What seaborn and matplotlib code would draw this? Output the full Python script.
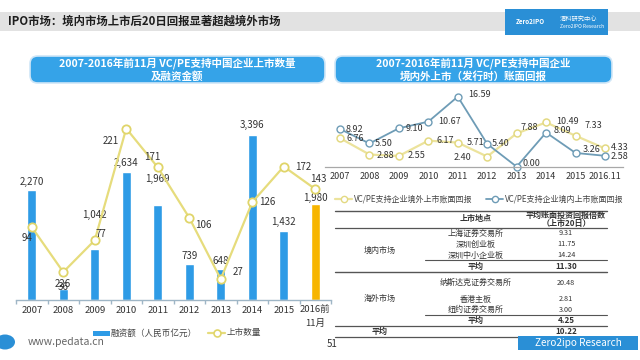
import numpy as np
import pandas as pd
import seaborn as sns
import matplotlib.pyplot as plt
from matplotlib.patches import Rectangle, FancyBboxPatch, Ellipse
from matplotlib.lines import Line2D

sns.set_theme(style='white')
plt.rcParams['font.family'] = ['Noto Sans CJK SC', 'DejaVu Sans']

W, H = 640, 360

# left chart: listings and capital raised
years_left = ['2007', '2008', '2009', '2010', '2011', '2012', '2013', '2014', '2015', '2016前\n11月']
amounts = [2270, 226, 1042, 2634, 1969, 739, 648, 3396, 1432, 1980]
counts = [94, 36, 77, 221, 171, 106, 27, 126, 172, 143]

# right chart: book return multiples
years_right = ['2007', '2008', '2009', '2010', '2011', '2012', '2013', '2014', '2015', '2016.11']
ret_overseas = [6.76, 2.88, 2.55, 6.17, 5.71, 2.40, 7.88, 10.49, 7.33, 4.33]
ret_domestic = [8.92, 5.50, 9.10, 10.67, 16.59, 5.40, 0.00, 8.09, 3.26, 2.58]

# table: 20-day return multiples
domestic_venues = ['上海证券交易所', '深圳创业板', '深圳中小企业板']
domestic_multiples = [9.31, 11.75, 14.24]
domestic_avg = 11.30
overseas_venues = ['纳斯达克证券交易所', '香港主板', '纽约证券交易所']
overseas_multiples = [20.48, 2.81, 3.00]
overseas_avg = 4.25
total_avg = 10.22

BLUE = '#2e9be6'
ORANGE = '#f7b500'
YELLOW = '#e6dc7c'
STEEL = '#6e9cb6'
TXT = '#333333'

fig = plt.figure(figsize=(6.4, 3.6), dpi=100)
fig.patch.set_facecolor('white')


def fx(x):
    return x / W


def fy(y):
    return 1 - y / H


def ftext(x, y, s, **kw):
    kw.setdefault('color', TXT)
    kw.setdefault('va', 'center')
    fig.text(fx(x), fy(y), s, **kw)


def fline(x0, x1, y, lw=0.7, color='#555555'):
    fig.add_artist(Line2D([fx(x0), fx(x1)], [fy(y), fy(y)], lw=lw, color=color))


def frect(x0, y0, x1, y1, **kw):
    fig.add_artist(Rectangle((fx(x0), fy(y1)), fx(x1) - fx(x0), fy(y0) - fy(y1),
                             transform=fig.transFigure, **kw))


def title_box(x0, y0, x1, y1, text):
    box = FancyBboxPatch((fx(x0), fy(y1)), fx(x1) - fx(x0), fy(y0) - fy(y1),
                         boxstyle='round,pad=0,rounding_size=0.012', mutation_aspect=W / H,
                         transform=fig.transFigure, facecolor='#35a3e8',
                         edgecolor='#cfe6f7', lw=1.2)
    fig.add_artist(box)
    ftext((x0 + x1) / 2, (y0 + y1) / 2, text, color='white', fontsize=7.6,
          fontweight='bold', ha='center', linespacing=1.25)


# header band
frect(0, 12, 640, 31, facecolor='#e2e2e2', edgecolor='none')
ftext(8, 21.5, 'IPO市场：境内市场上市后20日回报显著超越境外市场', fontsize=8.2,
      fontweight='bold', color='#1e1e1e', ha='left')
frect(505, 9, 608, 35, facecolor='#2a8fd6', edgecolor='none')
ftext(530, 22, 'Zero2IPO', fontsize=4.5, color='white', ha='center', style='italic',
      fontweight='bold')
ftext(560, 19, '清科研究中心', fontsize=4.5, color='white', ha='left')
ftext(560, 26, 'Zero2IPO Research', fontsize=3.6, color='white', ha='left')

title_box(30, 56, 325, 83, '2007-2016年前11月 VC/PE支持中国企业上市数量\n及融资金额')
title_box(335, 56, 612, 83, '2007-2016年前11月 VC/PE支持中国企业\n境内外上市（发行时）账面回报')

# ---- left chart ----
ax1 = fig.add_axes([fx(16), fy(300), (331 - 16) / W, 194 / H])
df_left = pd.DataFrame({'year': years_left, 'amount': amounts})
bar_colors = [BLUE] * (len(years_left) - 1) + [ORANGE]
sns.barplot(data=df_left, x='year', y='amount', hue='year', palette=bar_colors,
            legend=False, width=0.28, saturation=1, ax=ax1)
ax1.set_ylim(0, 4000)
ax1.set_xlabel('')
ax1.set_ylabel('')
ax1.set_yticks([])
for s in ['top', 'left', 'right']:
    ax1.spines[s].set_visible(False)
ax1.spines['bottom'].set_color('#9fb6c6')
ax1.spines['bottom'].set_linewidth(1.0)
ax1.set_xticks(range(len(years_left)))
ax1.set_xticklabels(years_left, fontsize=6.8, color=TXT, linespacing=1.6)
ax1.set_xticks(np.arange(-0.5, len(years_left), 1), minor=True)
ax1.tick_params(axis='x', which='major', length=0, pad=4)
ax1.tick_params(axis='x', which='minor', length=3, color='#9fb6c6', bottom=True,
                direction='out')
ax1.patch.set_alpha(0)
bar_label_lift = [8, 5, 34, 9, 26, 8, 8, 10, 9, 6]
for i, (v, lift) in enumerate(zip(amounts, bar_label_lift)):
    ax1.annotate(f'{v:,}', (i, v), xytext=(0, lift), textcoords='offset pixels',
                 ha='center', va='center', fontsize=7, color=TXT)

ax2 = ax1.twinx()
sns.lineplot(x=np.arange(len(counts)), y=counts, ax=ax2, color=YELLOW, lw=1.6,
             marker='o', markersize=6, markerfacecolor='white',
             markeredgecolor='#e0d56a', markeredgewidth=1.3)
ax2.set_ylim(0, 250)
ax2.set_xlim(-0.5, len(years_left) - 0.5)
ax2.set_yticks([])
ax2.set_ylabel('')
for s in ax2.spines.values():
    s.set_visible(False)
count_offsets = [(-5, -11), (0, -15), (6, 6), (-15, -12), (-5, 10),
                 (14, -7), (17, 7), (15, 0), (19, 0), (3, 10)]
for i, (v, off) in enumerate(zip(counts, count_offsets)):
    ax2.annotate(str(v), (i, v), xytext=off, textcoords='offset pixels',
                 ha='center', va='center', fontsize=7, color=TXT)

# left legend
frect(93, 330.5, 110, 335.5, facecolor=BLUE, edgecolor='none')
ftext(111, 333, '融资额（人民币亿元）', fontsize=6.2, color='#444444', ha='left')
fig.add_artist(Line2D([fx(208), fx(225)], [fy(333), fy(333)], color=YELLOW, lw=1.6))
fig.add_artist(Line2D([fx(216.5)], [fy(333)], marker='o', markersize=5,
                      markerfacecolor='white', markeredgecolor='#e0d56a',
                      markeredgewidth=1.2, lw=0))
ftext(227, 333, '上市数量', fontsize=6.2, color='#444444', ha='left')

# ---- right chart ----
ax3 = fig.add_axes([fx(325.3), fy(166.7), (622.6 - 325.3) / W, 76 / H])
xr = np.arange(len(years_right))
sns.lineplot(x=xr, y=ret_overseas, ax=ax3, color='#ece39c', lw=1.6, marker='o',
             markersize=5, markerfacecolor='white', markeredgecolor='#e3d982',
             markeredgewidth=1.1, clip_on=False)
sns.lineplot(x=xr, y=ret_domestic, ax=ax3, color=STEEL, lw=1.3, marker='o',
             markersize=5, markerfacecolor='white', markeredgecolor=STEEL,
             markeredgewidth=1.0, clip_on=False)
ax3.set_xlim(-0.5, 9.6)
ax3.set_ylim(0, 18)
ax3.set_yticks([])
ax3.set_xticks(xr)
ax3.set_xticklabels(years_right, fontsize=6.5, color=TXT)
ax3.tick_params(axis='x', length=0, pad=4)
ax3.patch.set_alpha(0)
for s in ['top', 'left', 'right']:
    ax3.spines[s].set_visible(False)
ax3.spines['bottom'].set_color('#a8a8a8')
ax3.spines['bottom'].set_linewidth(0.9)

dom_offsets = [(6, 0), (5, 0), (7, 0), (10, 0), (10, 2), (5, 0), (6, 3), (8, 2), (7, 3), (6, -1)]
ovs_offsets = [(6, 0), (7, -1), (9, 0), (8, 0), (9, 0), (-16, -1), (4, 6), (10, 1), (9, 10), (6, 1)]
for i, (v, off) in enumerate(zip(ret_domestic, dom_offsets)):
    ax3.annotate(f'{v:.2f}', (i, v), xytext=off, textcoords='offset pixels',
                 ha='left', va='center', fontsize=6.5, color=TXT)
for i, (v, off) in enumerate(zip(ret_overseas, ovs_offsets)):
    ax3.annotate(f'{v:.2f}', (i, v), xytext=off, textcoords='offset pixels',
                 ha='left' if off[0] > 0 else 'right', va='center', fontsize=6.5, color=TXT)

# right legend
fig.add_artist(Line2D([fx(335), fx(352)], [fy(199), fy(199)], color='#ece39c', lw=1.6))
fig.add_artist(Line2D([fx(343.5)], [fy(199)], marker='o', markersize=4.5,
                      markerfacecolor='white', markeredgecolor='#e3d982', lw=0))
ftext(354, 199, 'VC/PE支持企业境外上市账面回报', fontsize=5.8, color='#444444', ha='left')
fig.add_artist(Line2D([fx(486), fx(503)], [fy(199), fy(199)], color=STEEL, lw=1.3))
fig.add_artist(Line2D([fx(494.5)], [fy(199)], marker='o', markersize=4.5,
                      markerfacecolor='white', markeredgecolor=STEEL, lw=0))
ftext(505, 199, 'VC/PE支持企业境内上市账面回报', fontsize=5.8, color='#444444', ha='left')

# ---- table ----
TX0, TX1, TX_MID = 335, 607, 425
C_GROUP, C_VENUE, C_VAL = 380, 476, 566
fs = 5.8
fline(TX0, TX1, 210.7, lw=1.0)
ftext(C_VENUE, 219, '上市地点', fontsize=fs, fontweight='bold', ha='center')
ftext(C_VAL, 215.5, '平均账面投资回报倍数', fontsize=fs, fontweight='bold', ha='center')
ftext(C_VAL, 223.5, '（上市20日）', fontsize=fs, fontweight='bold', ha='center')
fline(TX0, TX1, 228, lw=0.9)

dom_rows = [233.3, 244.3, 255]
for y, name, val in zip(dom_rows, domestic_venues, domestic_multiples):
    ftext(C_VENUE, y, name, fontsize=fs, ha='center')
    ftext(C_VAL, y, f'{val:.2f}', fontsize=fs - 0.6, ha='center')
ftext(C_GROUP, 250.7, '境内市场', fontsize=fs, ha='center')
fline(TX_MID, TX1, 260.3, lw=0.8)
ftext(C_VENUE, 266.5, '平均', fontsize=fs, fontweight='bold', ha='center')
ftext(C_VAL, 266.5, f'{domestic_avg:.2f}', fontsize=fs, fontweight='bold', ha='center')
fline(TX0, TX1, 271.5, lw=1.0)

ovs_rows = [282.7, 299, 309.7]
for y, name, val in zip(ovs_rows, overseas_venues, overseas_multiples):
    ftext(C_VENUE, y, name, fontsize=fs, ha='center')
    ftext(C_VAL, y, f'{val:.2f}', fontsize=fs - 0.6, ha='center')
ftext(C_GROUP, 298, '海外市场', fontsize=fs, ha='center')
fline(TX_MID, TX1, 315, lw=0.8)
ftext(C_VENUE, 320.7, '平均', fontsize=fs, fontweight='bold', ha='center')
ftext(C_VAL, 320.7, f'{overseas_avg:.2f}', fontsize=fs, fontweight='bold', ha='center')
fline(TX0, TX1, 326, lw=0.9)
ftext(C_GROUP, 331.7, '平均', fontsize=fs, fontweight='bold', ha='center')
ftext(C_VAL, 331.7, f'{total_avg:.2f}', fontsize=fs, fontweight='bold', ha='center')
fline(TX0, TX1, 337, lw=0.9)

# footer
fig.add_artist(Ellipse((fx(5), fy(342)), 20 / W, 15 / H, transform=fig.transFigure,
                       facecolor='#2a8fd6', edgecolor='none'))
ftext(28, 342, 'www.pedata.cn', fontsize=7.5, color='#666666', ha='left')
ftext(332, 344, '51', fontsize=7, color=TXT, ha='center')
frect(518, 336, 638, 349.5, facecolor='#2a8fd6', edgecolor='none', zorder=5)
ftext(578, 342.5, 'Zero2ipo Research', fontsize=7.2, color='white', ha='center', zorder=6)

fig.savefig('out.png', dpi=100)
